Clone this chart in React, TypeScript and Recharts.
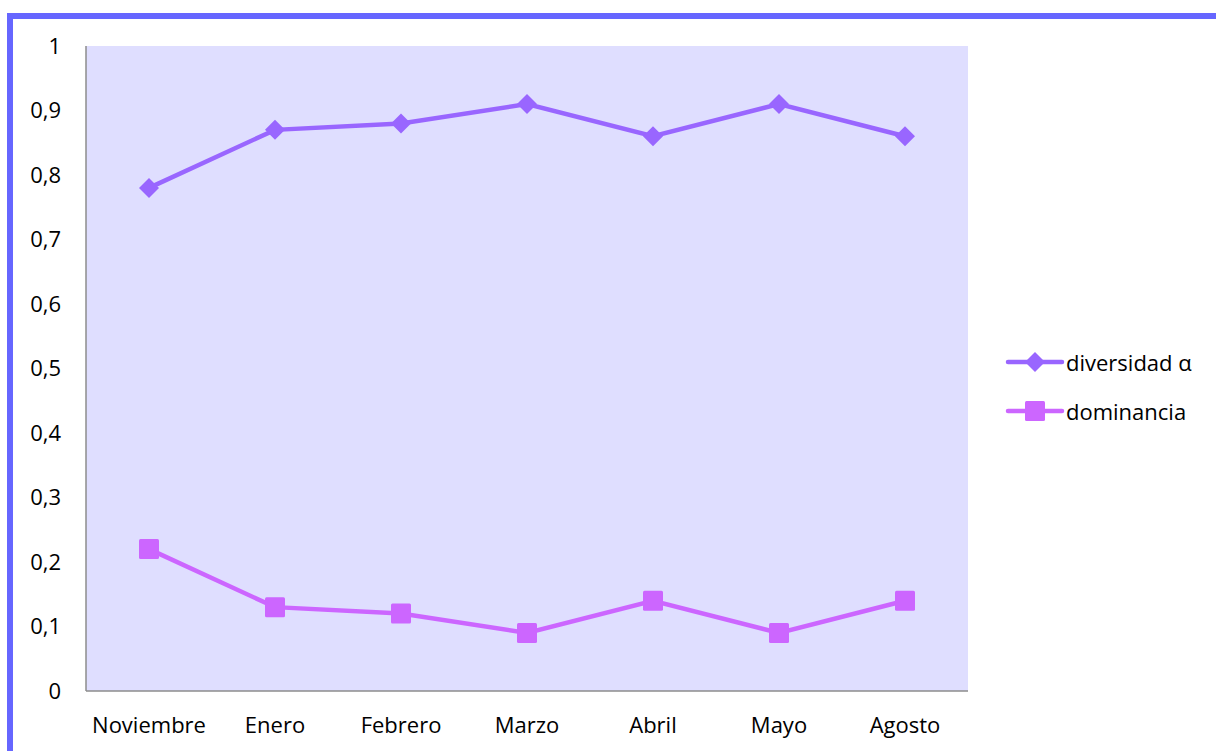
import React from "react";
import { LineChart, Line, XAxis, YAxis, CartesianGrid } from "recharts";

const categories = ["Noviembre", "Enero", "Febrero", "Marzo", "Abril", "Mayo", "Agosto"];
const diversidad = [0.78, 0.87, 0.88, 0.91, 0.86, 0.91, 0.86];
const dominancia = [0.22, 0.13, 0.12, 0.09, 0.14, 0.09, 0.14];
const yTicks = [0, 0.1, 0.2, 0.3, 0.4, 0.5, 0.6, 0.7, 0.8, 0.9, 1];

const seriesNames = { div: "diversidad α", dom: "dominancia" };
const C_DIV = "#9966ff";
const C_DOM = "#cc66ff";
const FONT = "'Open Sans', 'Noto Sans', sans-serif";
const FS = 22;

const data = categories.map((c, i) => ({ name: c, div: diversidad[i], dom: dominancia[i] }));

const Diamond = (props: any) => {
  const { cx, cy } = props;
  if (cx == null || cy == null) return null;
  const r = 10;
  return (
    <polygon
      points={`${cx},${cy - r} ${cx + r},${cy} ${cx},${cy + r} ${cx - r},${cy}`}
      fill={C_DIV}
    />
  );
};

const Square = (props: any) => {
  const { cx, cy } = props;
  if (cx == null || cy == null) return null;
  const s = 10;
  return <rect x={cx - s} y={cy - s} width={2 * s} height={2 * s} rx={1.5} fill={C_DOM} />;
};

const LegendBox = () => (
  <div
    style={{
      position: "absolute",
      left: 1005,
      top: 349,
      fontFamily: FONT,
      fontSize: FS,
      color: "#000",
      whiteSpace: "nowrap",
    }}
  >
    <div style={{ display: "flex", alignItems: "center", height: 26, marginBottom: 23 }}>
      <svg width={60} height={24}>
        <line x1={3} y1={12} x2={57} y2={12} stroke={C_DIV} strokeWidth={4.5} strokeLinecap="round" />
        <polygon points="30,2 40,12 30,22 20,12" fill={C_DIV} />
      </svg>
      <span style={{ marginLeft: 1 }}>{seriesNames.div}</span>
    </div>
    <div style={{ display: "flex", alignItems: "center", height: 26 }}>
      <svg width={60} height={24}>
        <line x1={3} y1={12} x2={57} y2={12} stroke={C_DOM} strokeWidth={4.5} strokeLinecap="round" />
        <rect x={20} y={2} width={20} height={20} rx={1.5} fill={C_DOM} />
      </svg>
      <span style={{ marginLeft: 1 }}>{seriesNames.dom}</span>
    </div>
  </div>
);

export default function App() {
  return (
    <div
      style={{
        position: "fixed",
        left: 0,
        top: 0,
        width: 1216,
        height: 751,
        overflow: "hidden",
        background: "#fff",
      }}
    >
      <div
        style={{
          position: "absolute",
          left: 7,
          top: 13,
          width: 1400,
          height: 1000,
          borderTop: "6px solid #6666ff",
          borderLeft: "6px solid #6666ff",
        }}
      />
      <div style={{ position: "absolute", left: 0, top: 0 }}>
        <LineChart
          width={1216}
          height={751}
          data={data}
          margin={{ top: 46, right: 248, bottom: 0, left: 0 }}
        >
          <CartesianGrid horizontal={false} vertical={false} fill="#dfdeff" />
          <XAxis
            dataKey="name"
            height={60}
            padding={{ left: 63, right: 63 }}
            tickLine={false}
            tickMargin={20}
            axisLine={{ stroke: "#8c8c8c", strokeWidth: 1.5 }}
            tick={{ fill: "#000", fontSize: FS, fontFamily: FONT }}
            interval={0}
          />
          <YAxis
            width={86}
            domain={[0, 1]}
            ticks={yTicks}
            interval={0}
            tickLine={false}
            tickMargin={19}
            axisLine={{ stroke: "#8c8c8c", strokeWidth: 1.5 }}
            tickFormatter={(v: number) => String(v).replace(".", ",")}
            tick={{ fill: "#000", fontSize: FS, fontFamily: FONT }}
          />
          <Line
            dataKey="div"
            name={seriesNames.div}
            stroke={C_DIV}
            strokeWidth={4.5}
            dot={<Diamond />}
            activeDot={false}
            isAnimationActive={false}
          />
          <Line
            dataKey="dom"
            name={seriesNames.dom}
            stroke={C_DOM}
            strokeWidth={4.5}
            dot={<Square />}
            activeDot={false}
            isAnimationActive={false}
          />
        </LineChart>
      </div>
      <LegendBox />
    </div>
  );
}
